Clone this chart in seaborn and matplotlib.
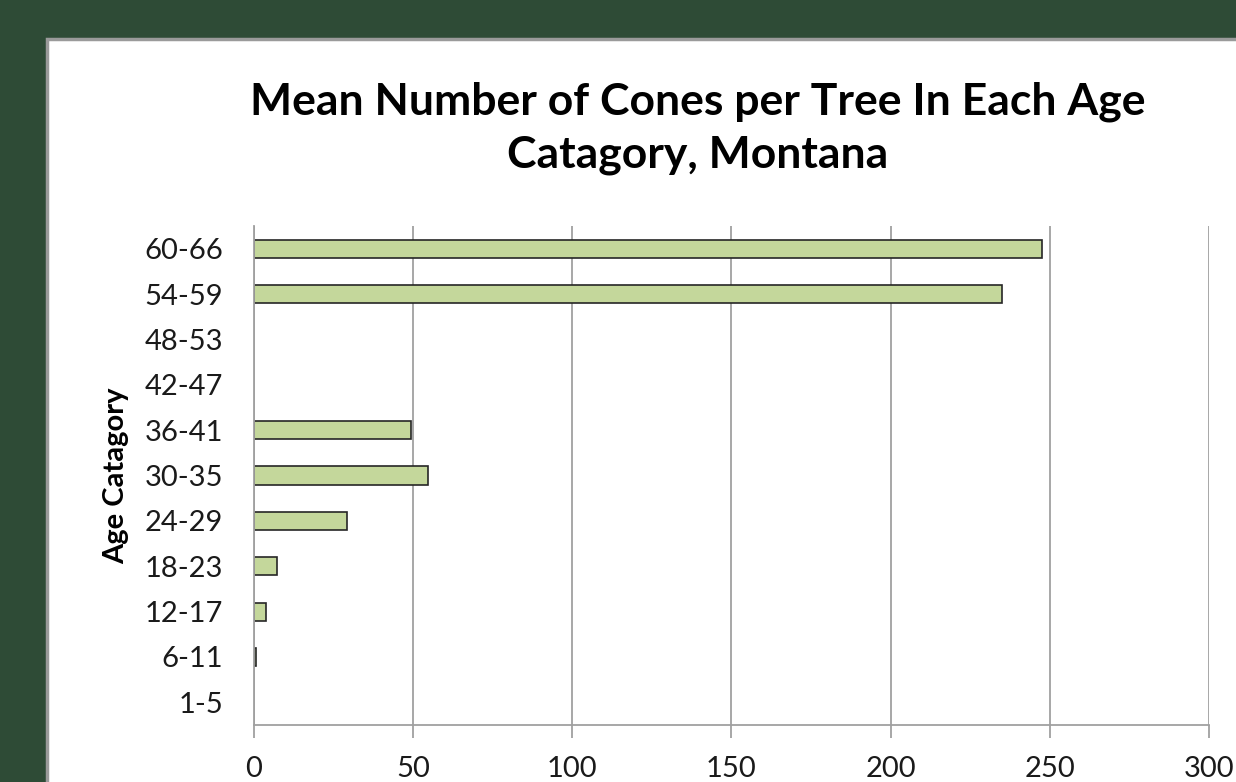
import numpy as np
import pandas as pd
import matplotlib
matplotlib.use("Agg")
import matplotlib.pyplot as plt
import seaborn as sns
from matplotlib.patches import Rectangle

# valores (de cima para baixo)
categorias = ["60-66", "54-59", "48-53", "42-47", "36-41", "30-35",
              "24-29", "18-23", "12-17", "6-11", "1-5"]
cones = [247.5, 235.0, np.nan, np.nan, 49.3, 54.6, 29.2, 7.2, 3.8, 0.6, np.nan]
xticks = [0, 50, 100, 150, 200, 250, 300]

df = pd.DataFrame({"idade": categorias, "cones": cones})

sns.set_style("white")
plt.rcParams["font.family"] = ["Lato", "DejaVu Sans"]

fig = plt.figure(figsize=(12.36, 7.82), dpi=100)
fig.patch.set_facecolor("#2e4b36")

# painel branco do gráfico
fig.patches.append(Rectangle((47 / 1236, -0.05), 1.1, (782 - 39) / 782 + 0.05,
                             transform=fig.transFigure, facecolor="white",
                             edgecolor="#9a9a9a", linewidth=2.5, zorder=-5))

ax = fig.add_axes([254 / 1236, 57 / 782, 955 / 1236, 499 / 782])
ax.set_facecolor("none")

sns.barplot(data=df, x="cones", y="idade", order=categorias, orient="h",
            color="#c4d79b", edgecolor="#262626", linewidth=1.2,
            width=0.4, errorbar=None, saturation=1, ax=ax)

ax.set_xlim(0, 300)
ax.set_xticks(xticks)
ax.grid(axis="x", color="#a0a0a0", linewidth=1.3)
ax.set_axisbelow(True)
for s in ["top", "right"]:
    ax.spines[s].set_visible(False)
for s in ["left", "bottom"]:
    ax.spines[s].set_color("#a0a0a0")
    ax.spines[s].set_linewidth(1.3)

ax.tick_params(axis="x", length=9, width=1.3, color="#a0a0a0", pad=13,
               labelsize=21, labelcolor="#1a1a1a", direction="out", bottom=True)
ax.tick_params(axis="y", length=0, pad=22, labelsize=21, labelcolor="#1a1a1a")

ax.set_xlabel("")
ax.set_ylabel("Age Catagory", fontsize=21, fontweight="bold", color="black")
ax.yaxis.set_label_coords(-0.131, 0.5)

fig.text(698 / 1236, 1 - 128 / 782,
         "Mean Number of Cones per Tree In Each Age\nCatagory, Montana",
         ha="center", va="center", fontsize=32, fontweight="bold",
         linespacing=1.39, color="black")

fig.savefig("out.png", dpi=100, facecolor=fig.get_facecolor())
